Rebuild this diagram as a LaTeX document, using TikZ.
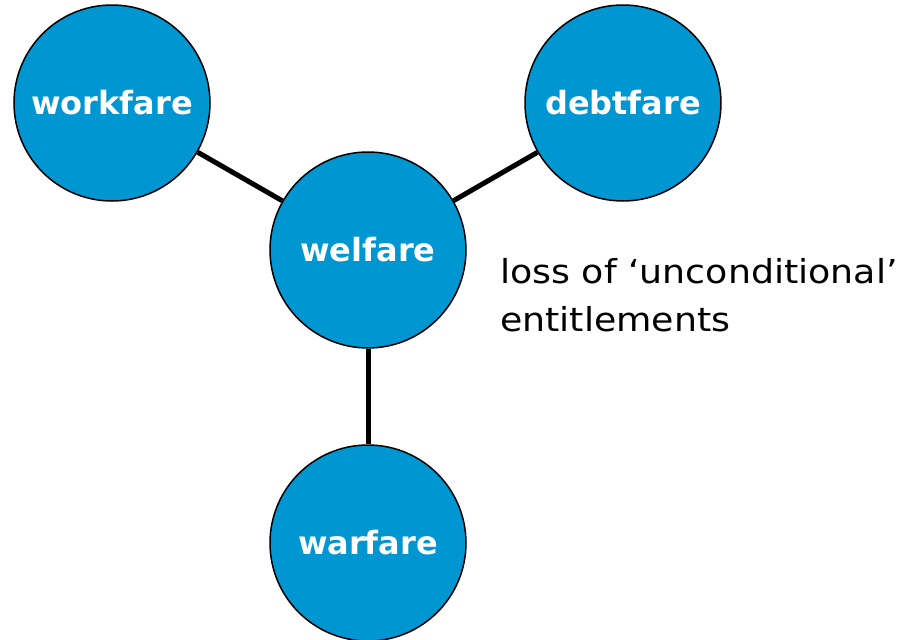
\documentclass[tikz,border=0pt]{standalone}
\usepackage{fontspec}
\setmainfont{DejaVu Sans}
\newfontfamily\widefont[FakeStretch=1.1,Ligatures=TeX]{DejaVu Sans}
\definecolor{farefill}{RGB}{0,150,210}
\begin{document}
\begin{tikzpicture}[x=1pt,y=-1pt,
  fare/.style={circle,draw=black,line width=1.5pt,fill=farefill,minimum size=196pt,inner sep=0pt,
    text=white,font=\fontsize{32}{38}\selectfont\bfseries},
  link/.style={line width=5pt,black}]
  \useasboundingbox (0,0) rectangle (906,640);
  \node [fare] (welfare) at (368,250) {welfare};
  \node [fare] (workfare) at (112,103) {workfare};
  \node [fare] (debtfare) at (623,103) {debtfare};
  \node [fare] (warfare) at (368,543) {warfare};
  \draw [link] (workfare) -- (welfare);
  \draw [link] (debtfare) -- (welfare);
  \draw [link] (welfare) -- (warfare);
  \node [anchor=base west,align=left,inner sep=0pt,font=\widefont\fontsize{33}{48}\selectfont] (loss) at (500,331)
    {loss of ‘unconditional’\\entitlements};
\end{tikzpicture}
\end{document}
